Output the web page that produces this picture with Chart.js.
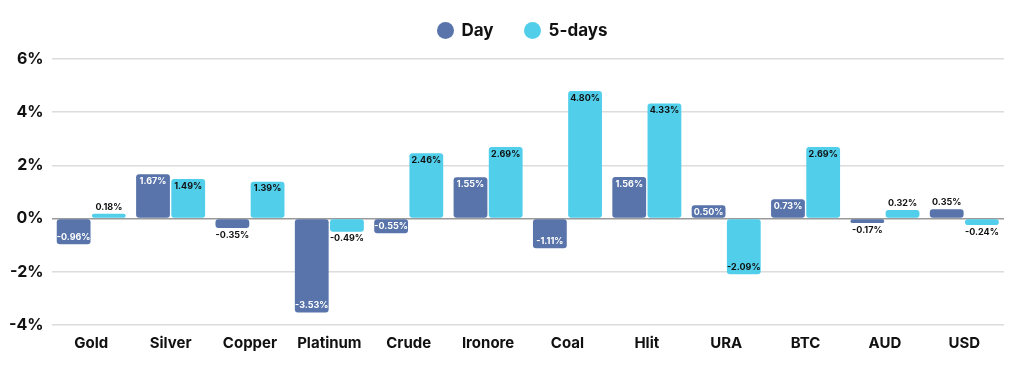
<!DOCTYPE html>
<html>
<head>
<meta charset="utf-8">
<script src="https://cdn.jsdelivr.net/npm/chart.js@4.4.0/dist/chart.umd.min.js"></script>
<style>
  html, body { margin: 0; padding: 0; background: #fff; }
  #wrap { width: 1024px; height: 365px; position: relative; }
  #legend {
    position: absolute; top: 19px; left: 0; width: 1024px;
    display: flex; justify-content: center; padding-left: 20px; box-sizing: border-box;
    font: 700 17px Inter, sans-serif; color: #111;
  }
  .item { display: flex; align-items: center; margin: 0 15px; line-height: 22px; }
  .dot { width: 17px; height: 17px; border-radius: 50%; margin-right: 8px; }
</style>
</head>
<body>
<div id="wrap">
  <div id="legend"></div>
  <canvas id="chart"></canvas>
</div>
<script>
// DATA
const categories = ['Gold', 'Silver', 'Copper', 'Platinum', 'Crude', 'Ironore', 'Coal', 'Hlit', 'URA', 'BTC', 'AUD', 'USD'];
const dayValues = [-0.96, 1.67, -0.35, -3.53, -0.55, 1.55, -1.11, 1.56, 0.50, 0.73, -0.17, 0.35];
const fiveDayValues = [0.18, 1.49, 1.39, -0.49, 2.46, 2.69, 4.80, 4.33, -2.09, 2.69, 0.32, -0.24];
const yTicks = [-4, -2, 0, 2, 4, 6];

const THEME = {
    day: '#5874aa',
    fiveDay: '#50ceea',
    text: '#111111',
    grid: '#dcdcdc',
    zero: '#9a9a9a',
    font: 'Inter'
};

// value labels: inside the bar end when big enough, otherwise just outside
const valueLabels = {
    id: 'valueLabels',
    afterDatasetsDraw(chart) {
        const ctx = chart.ctx;
        ctx.save();
        ctx.font = '700 9px ' + THEME.font;
        ctx.textAlign = 'center';
        ctx.textBaseline = 'middle';
        chart.data.datasets.forEach((ds, di) => {
            chart.getDatasetMeta(di).data.forEach((bar, i) => {
                const v = ds.data[i];
                const inside = Math.abs(v) >= 0.5;
                const dir = v >= 0 ? 1 : -1;
                const y = inside ? bar.y + dir * 7 : bar.y - dir * 7;
                ctx.fillStyle = inside && di === 0 ? '#ffffff' : THEME.text;
                ctx.fillText(v.toFixed(2) + '%', bar.x, y);
            });
        });
        ctx.restore();
    }
};

Chart.defaults.font.family = THEME.font;
Chart.defaults.color = THEME.text;

const chart = new Chart(document.getElementById('chart'), {
    type: 'bar',
    data: {
        labels: categories,
        datasets: [
            { label: 'Day', data: dayValues, backgroundColor: THEME.day, borderRadius: 3, borderSkipped: false },
            { label: '5-days', data: fiveDayValues, backgroundColor: THEME.fiveDay, borderRadius: 3, borderSkipped: false }
        ]
    },
    options: {
        responsive: true,
        maintainAspectRatio: false,
        animation: false,
        datasets: { bar: { categoryPercentage: 0.887, barPercentage: 0.96 } },
        layout: { padding: { left: 1, right: 20, top: 59, bottom: 4 } },
        scales: {
            x: {
                grid: { display: false, drawTicks: false },
                border: { display: false },
                ticks: { color: THEME.text, font: { size: 15, weight: '700' }, padding: 9 }
            },
            y: {
                min: -4,
                max: 6,
                afterBuildTicks: (axis) => { axis.ticks = yTicks.map(v => ({ value: v })); },
                border: { display: false },
                grid: {
                    color: (c) => c.tick && c.tick.value === 0 ? THEME.zero : THEME.grid,
                    lineWidth: 1.5,
                    drawTicks: false
                },
                ticks: {
                    color: THEME.text,
                    font: { size: 16, weight: '700' },
                    padding: 8,
                    callback: (v) => v + '%'
                }
            }
        },
        plugins: {
            legend: { display: false },
            tooltip: { enabled: false }
        }
    },
    plugins: [valueLabels]
});

// html legend built from the datasets
document.getElementById('legend').innerHTML = chart.data.datasets.map(ds => `
    <div class="item"><span class="dot" style="background:${ds.backgroundColor}"></span>${ds.label}</div>
`).join('');
</script>
</body>
</html>
